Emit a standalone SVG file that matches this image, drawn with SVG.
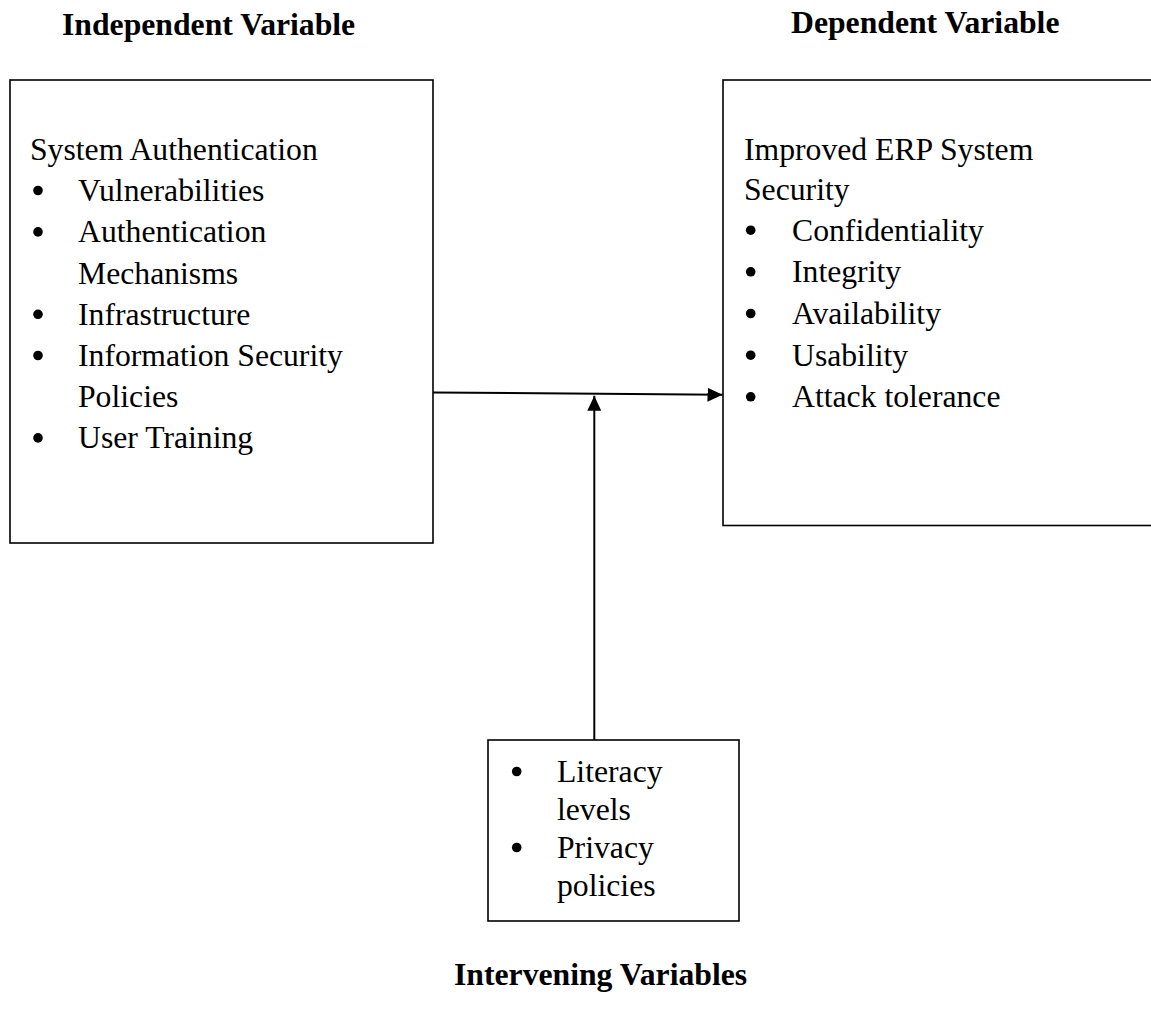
<svg xmlns="http://www.w3.org/2000/svg" width="1151" height="1011" viewBox="0 0 1151 1011">
  <style>
    .title { font-family: "Liberation Serif", "Times New Roman", serif; font-weight: bold; font-size: 31.7px; fill: #000; }
    .body { font-family: "Liberation Serif", "Times New Roman", serif; font-size: 31.7px; fill: #000; }
    .box { fill: #fff; stroke: #000; stroke-width: 1.6; }
    .link { fill: none; stroke: #000; stroke-width: 2; }
    .dot { fill: #000; }
  </style>
  <defs>
    <marker id="arrow" viewBox="0 0 15 14" refX="15" refY="7" markerWidth="15" markerHeight="14" markerUnits="userSpaceOnUse" orient="auto">
      <path d="M0,0 L15,7 L0,14 Z" fill="#000"/>
    </marker>
  </defs>
  <rect width="1151" height="1011" fill="#fff"/>

  <!-- column headings -->
  <text class="title" x="62" y="35">Independent Variable</text>
  <text class="title" x="791" y="33">Dependent Variable</text>
  <text class="title" x="454" y="985">Intervening Variables</text>

  <!-- independent variable box -->
  <g id="independent">
    <rect class="box" x="10" y="80" width="423" height="463"/>
    <text class="body" x="30" y="160">System Authentication</text>
    <circle class="dot" cx="38" cy="190.5" r="4.8"/>
    <text class="body" x="78" y="201.2">Vulnerabilities</text>
    <circle class="dot" cx="38" cy="231.9" r="4.8"/>
    <text class="body" x="78" y="242.4">Authentication</text>
    <text class="body" x="78" y="283.6">Mechanisms</text>
    <circle class="dot" cx="38" cy="314.3" r="4.8"/>
    <text class="body" x="78" y="324.8">Infrastructure</text>
    <circle class="dot" cx="38" cy="355.5" r="4.8"/>
    <text class="body" x="78" y="366">Information Security</text>
    <text class="body" x="78" y="407.2">Policies</text>
    <circle class="dot" cx="38" cy="437.9" r="4.8"/>
    <text class="body" x="78" y="448.4">User Training</text>
  </g>

  <!-- dependent variable box -->
  <g id="dependent">
    <rect class="box" x="723" y="80" width="440" height="445.5"/>
    <text class="body" x="744" y="160">Improved ERP System</text>
    <text class="body" x="744" y="199.5">Security</text>
    <circle class="dot" cx="750.7" cy="230.2" r="4.8"/>
    <text class="body" x="792" y="240.7">Confidentiality</text>
    <circle class="dot" cx="750.7" cy="271.8" r="4.8"/>
    <text class="body" x="792" y="282.3">Integrity</text>
    <circle class="dot" cx="750.7" cy="313.5" r="4.8"/>
    <text class="body" x="792" y="324">Availability</text>
    <circle class="dot" cx="750.7" cy="355.2" r="4.8"/>
    <text class="body" x="792" y="365.7">Usability</text>
    <circle class="dot" cx="750.7" cy="396.8" r="4.8"/>
    <text class="body" x="792" y="407.3">Attack tolerance</text>
  </g>

  <!-- intervening variables box -->
  <g id="intervening">
    <rect class="box" x="488" y="740" width="251" height="181"/>
    <circle class="dot" cx="516.7" cy="771.5" r="4.8"/>
    <text class="body" x="557" y="782">Literacy</text>
    <text class="body" x="557" y="819.5">levels</text>
    <circle class="dot" cx="516.7" cy="847.5" r="4.8"/>
    <text class="body" x="557" y="858">Privacy</text>
    <text class="body" x="557" y="895.5">policies</text>
  </g>

  <!-- connectors -->
  <g id="connectors">
    <line class="link" x1="433" y1="392.5" x2="722.5" y2="394.8" marker-end="url(#arrow)"/>
    <line class="link" x1="594.3" y1="740" x2="594.3" y2="395.8" marker-end="url(#arrow)"/>
  </g>
</svg>
